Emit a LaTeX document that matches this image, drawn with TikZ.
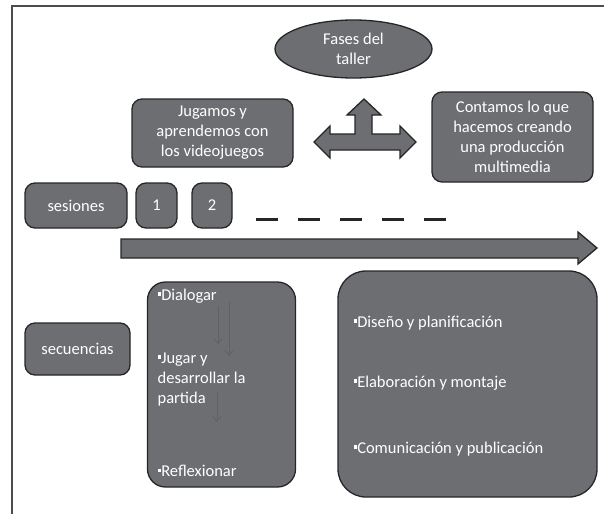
\documentclass[tikz,border=0pt]{standalone}
\usepackage{fontspec}
\setmainfont{Carlito}
\usetikzlibrary{shapes.geometric, arrows.meta}
\definecolor{boxgray}{HTML}{6D6E71}
\definecolor{edgegray}{HTML}{262628}
\newcommand{\sqbul}{\raisebox{0.55ex}{\rule{3.6pt}{3.6pt}}}
\tikzset{
    fase/.style={draw=edgegray, fill=boxgray, line width=1.3pt, text=white, rounded corners=10pt, align=center, font=\fontsize{16.5}{20}\selectfont, inner sep=0pt},
    etapa/.style={fase, rounded corners=28pt, align=left},
    thinarrow/.style={-{Straight Barb[length=5pt, width=8pt]}, black!62, line width=0.8pt}
}
\begin{document}
\begin{tikzpicture}[x=1pt, y=-1pt]
    \useasboundingbox (0,0) rectangle (604,514);
    %Frame
    \draw[gray!60!black, line width=1.2pt] (604,6) -- (12,6) -- (12,514);

    %Nodes
    \node[fase, ellipse, minimum width=157pt, minimum height=58pt] at (353.5, 49) (fases) {Fases del\\taller};
    \node[fase, minimum width=161pt, minimum height=68pt] at (212.5, 133) (jugamos) {Jugamos y\\aprendemos con\\los videojuegos};
    \node[fase, minimum width=161pt, minimum height=90pt] at (512.5, 137) (contamos) {Contamos lo que\\hacemos creando\\una producción\\multimedia};

    \node[fase, minimum width=102pt, minimum height=45pt] at (76, 205.5) (sesiones) {sesiones};
    \node[fase, minimum width=41pt, minimum height=45pt] at (156.5, 205.5) (s1) {1};
    \node[fase, minimum width=40pt, minimum height=45pt] at (212, 205.5) (s2) {2};

    \node[fase, minimum width=105pt, minimum height=52pt] at (77.5, 349) (secuencias) {secuencias};

    \node[etapa, rounded corners=18pt, minimum width=148pt, minimum height=205pt] at (221.5, 384.5) (jugar) {};
    \node[fase, draw=none, align=left, anchor=west] at (157, 296) (dialogar) {\sqbul Dialogar};
    \node[fase, draw=none, align=left, anchor=north west] at (157, 352) (partida) {\sqbul Jugar y\\desarrollar la\\partida};
    \node[fase, draw=none, align=left, anchor=west] at (157, 471) (reflexionar) {\sqbul Reflexionar};

    \node[etapa, minimum width=259pt, minimum height=226pt] at (467.5, 384) (contar) {};
    \node[fase, draw=none, anchor=west] at (353, 323) (diseno) {\sqbul Diseño y planificación};
    \node[fase, draw=none, anchor=west] at (353, 383) (montaje) {\sqbul Elaboración y montaje};
    \node[fase, draw=none, anchor=west] at (353, 449) (publicacion) {\sqbul Comunicación y publicación};

    \coordinate (a1) at (218, 306);
    \coordinate (b1) at (218, 344);
    \coordinate (a2) at (229, 302);
    \coordinate (b2) at (229, 356);
    \coordinate (a3) at (217, 392);
    \coordinate (b3) at (217, 422);

    %Lines
    \draw[thinarrow] (a1) -- (b1);
    \draw[thinarrow] (a2) -- (b2);
    \draw[thinarrow] (a3) -- (b3);

    \draw[edgegray, line width=3pt, dash pattern=on 22pt off 20pt] (256, 219) -- (447, 219);

    %Arrows
    \draw[draw=edgegray, fill=boxgray, line width=1.3pt] (314,142) -- (330,126) -- (330,134) -- (355,134) -- (355,115)
        -- (347,115) -- (364,99) -- (381,115) -- (372,115) -- (372,134) -- (400,134) -- (400,126)
        -- (416,142) -- (400,158) -- (400,150) -- (330,150) -- (330,158) -- cycle;
    \draw[draw=edgegray, fill=boxgray, line width=1.3pt] (121,239) -- (578,239) -- (578,232) -- (597,248)
        -- (578,264) -- (578,258) -- (121,258) -- cycle;

\end{tikzpicture}
\end{document}
